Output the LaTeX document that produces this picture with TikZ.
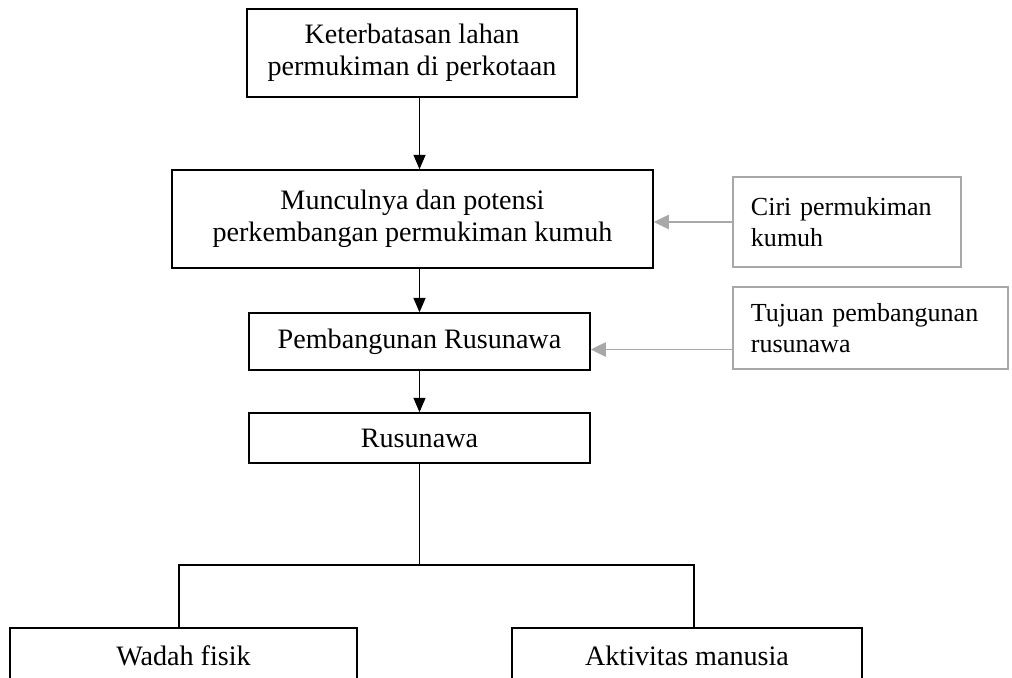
\documentclass[tikz,border=0pt]{standalone}
\usepackage{fontspec}
\setmainfont{Liberation Serif}
\usepackage{tikz}
\usetikzlibrary{arrows.meta}
\definecolor{sidegray}{RGB}{168,168,168}

\begin{document}
\begin{tikzpicture}[x=0.025cm,y=-0.025cm,
  box/.style={draw,line width=1.1pt,align=center,inner sep=0pt,font=\fontsize{20}{23}\selectfont},
  sidebox/.style={draw=sidegray,line width=1pt,align=left,inner xsep=0.45cm,inner ysep=0pt,font=\fontsize{18.5}{22}\selectfont},
  arr/.style={line width=1pt,-{Triangle[length=0.36cm,width=0.3cm]}},
  grayarr/.style={draw=sidegray,line width=1.3pt,-{Triangle[length=0.38cm,width=0.36cm,fill=sidegray]}},
  branch/.style={line width=0.9pt}]
\useasboundingbox (0,0) rectangle (1012,677);
\clip (0,0) rectangle (1012,677);

%draw main nodes
\node[box,minimum width=8.25cm,minimum height=2.2cm] (lahan) at (412,53) {Keterbatasan lahan\\permukiman di perkotaan};
\node[box,minimum width=12.02cm,minimum height=2.45cm] (kumuh) at (412.5,219) {Munculnya dan potensi\\perkembangan permukiman kumuh};
\node[box,minimum width=8.52cm,minimum height=1.42cm] (bangun) at (419.5,341.5) {Pembangunan Rusunawa};
\node[box,minimum width=8.52cm,minimum height=1.25cm] (rusun) at (419.5,438) {Rusunawa};

%draw side nodes
\node[sidebox,text width=4.8cm,minimum height=2.25cm] (ciri) at (847,222) {Ciri permukiman\\kumuh};
\node[sidebox,text width=5.98cm,minimum height=2.05cm] (tujuan) at (870.5,328) {Tujuan pembangunan\\rusunawa};

%draw bottom nodes
\node[box,minimum width=8.68cm,minimum height=1.4cm] (wadah) at (183.5,656) {Wadah fisik};
\node[box,minimum width=8.75cm,minimum height=1.4cm] (aktivitas) at (687,656) {Aktivitas manusia};

%draw arrows
\draw[arr] (lahan.south -| bangun.north) -- (kumuh.north -| bangun.north);
\draw[arr] (kumuh.south -| bangun.north) -- (bangun.north);
\draw[arr] (bangun.south) -- (rusun.north);
\draw[grayarr] (ciri.west) -- (ciri.west -| kumuh.east);
\draw[grayarr] ([yshift=-0.2cm]tujuan.west |- bangun.east) -- ([yshift=-0.2cm]bangun.east);

%draw branches
\coordinate (split) at (rusun.south |- 0,565);
\draw[branch] (rusun.south) -- (split);
\draw[branch] (179,628) |- (split) -| (694,628);
\end{tikzpicture}
\end{document}
